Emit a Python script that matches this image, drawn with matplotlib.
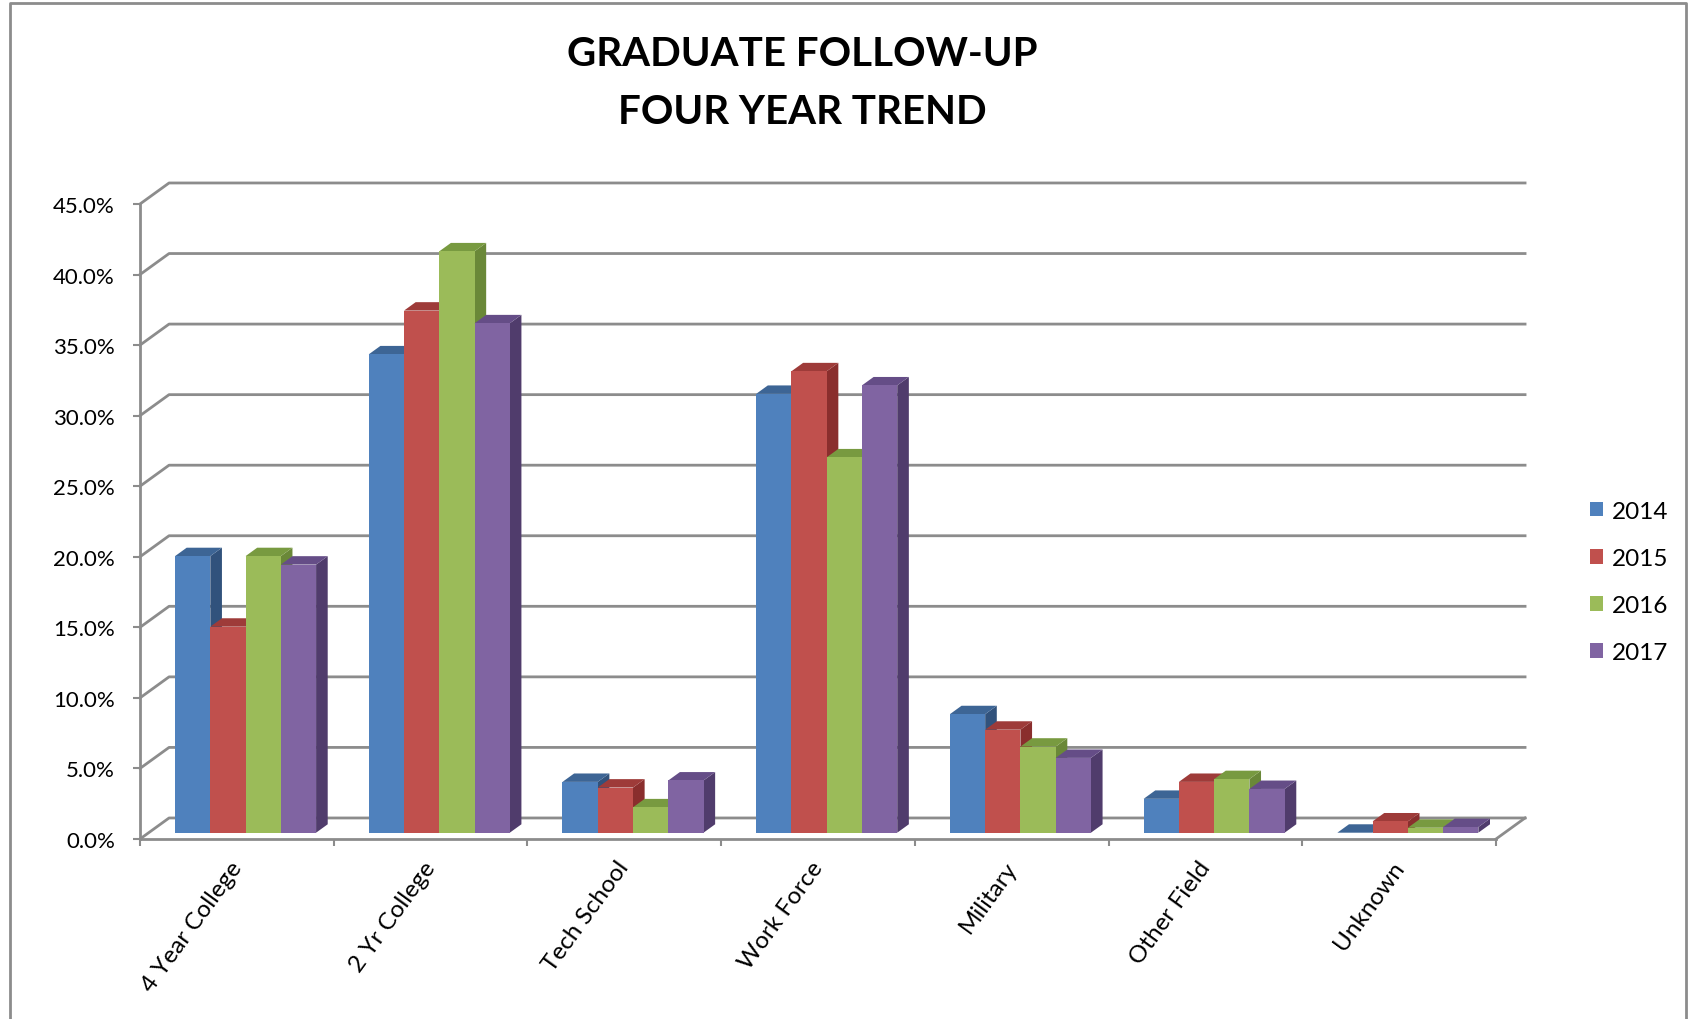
import numpy as np
import matplotlib
matplotlib.use("Agg")
import matplotlib.pyplot as plt
import matplotlib.transforms as mtransforms
from matplotlib.patches import Polygon, Patch
from matplotlib.lines import Line2D

plt.rcParams["font.family"] = ["Lato", "DejaVu Sans"]

# data (percent)
categories = ["4 Year College", "2 Yr College", "Tech School", "Work Force",
              "Military", "Other Field", "Unknown"]
years = ["2014", "2015", "2016", "2017"]
v2014 = [19.6, 33.9, 3.6, 31.1, 8.4, 2.4, 0.0]
v2015 = [14.6, 37.0, 3.2, 32.7, 7.3, 3.6, 0.8]
v2016 = [19.6, 41.2, 1.8, 26.6, 6.1, 3.8, 0.35]
v2017 = [19.0, 36.1, 3.7, 31.7, 5.3, 3.1, 0.4]
y_ticks = np.arange(0, 50, 5)

front_cols = ["#4F81BD", "#C0504D", "#9BBB59", "#8064A2"]
top_cols = ["#3D6595", "#9E3B39", "#789A40", "#654D87"]
side_cols = ["#31527C", "#8A2E2D", "#6A8838", "#503C6C"]
grid_col = "#8C8C8C"

W, H = 1688, 1020
fig = plt.figure(figsize=(W / 100, H / 100), dpi=100)
ax = fig.add_axes([140 / W, (H - 840) / H, 1356 / W, 635 / H])
ncat = len(categories)
ax.set_xlim(0, ncat)
ax.set_ylim(0, 45)

# pseudo 3D depth (data units)
DX, DY = 0.15, 1.49
FRONT, THICK = 0.30, 0.40
BW = 0.182
off = (1 - 4 * BW) / 2

# back wall + floor
for v in y_ticks:
    ax.add_line(Line2D([0, DX, ncat + DX], [v, v + DY, v + DY], color=grid_col,
                       lw=2, clip_on=False, zorder=1))
ax.add_line(Line2D([ncat, ncat + DX], [0, DY], color=grid_col, lw=2,
                   clip_on=False, zorder=1))

series = [v2014, v2015, v2016, v2017]
dx, dy = THICK * DX, THICK * DY
z = 3
for i in range(ncat):
    for j, vals in enumerate(series):
        h = vals[i]
        x0 = i + off + j * BW + FRONT * DX
        y0 = FRONT * DY
        x1 = x0 + BW
        side = Polygon([(x1, y0), (x1 + dx, y0 + dy), (x1 + dx, y0 + h + dy), (x1, y0 + h)],
                       closed=True, fc=side_cols[j], lw=0, zorder=z, clip_on=False)
        top = Polygon([(x0, y0 + h), (x1, y0 + h), (x1 + dx, y0 + h + dy), (x0 + dx, y0 + h + dy)],
                      closed=True, fc=top_cols[j], lw=0, zorder=z + 0.01, clip_on=False)
        ax.add_patch(side)
        ax.add_patch(top)
        ax.bar(x0, h, width=BW, bottom=y0, align="edge", color=front_cols[j],
               lw=0, zorder=z + 0.02, clip_on=False)
        z += 0.1

for s in ["top", "right"]:
    ax.spines[s].set_visible(False)
for s in ["left", "bottom"]:
    ax.spines[s].set_color(grid_col)
    ax.spines[s].set_linewidth(2)
    ax.spines[s].set_zorder(1)

ax.set_yticks(y_ticks)
ax.set_yticklabels([f"{v:.1f}%" for v in y_ticks], fontsize=16)
ax.tick_params(axis="y", length=5, width=1.5, color=grid_col, pad=13)
ax.set_xticks(np.arange(ncat + 1))
ax.set_xticklabels([])
ax.tick_params(axis="x", which="major", length=5, width=1.5, color=grid_col)
ax.set_xticks(np.arange(ncat) + 0.5, minor=True)
ax.set_xticklabels(categories, minor=True, rotation=54, ha="right", va="top",
                   fontsize=17.5)
ax.tick_params(axis="x", which="minor", length=0, pad=13)
shift = mtransforms.ScaledTranslation(9 / 100, 0, fig.dpi_scale_trans)
for lab in ax.get_xticklabels(minor=True):
    lab.set_transform(lab.get_transform() + shift)

fig.text(802 / W, 1 - 54 / H, "GRADUATE FOLLOW-UP", ha="center", va="center",
         fontsize=29, fontweight="bold")
fig.text(802 / W, 1 - 112 / H, "FOUR YEAR TREND", ha="center", va="center",
         fontsize=29, fontweight="bold")

handles = [Patch(facecolor=c, edgecolor="none") for c in front_cols]
fig.legend(handles, years, loc="center left", bbox_to_anchor=(1590 / W, 1 - 583 / H),
           frameon=False, fontsize=17.5, handlelength=0.55, handleheight=0.55,
           handletextpad=0.35, labelspacing=1.08, borderpad=0, borderaxespad=0)

# chart border
fig.add_artist(Line2D([10 / W, 10 / W, 1686 / W, 1686 / W], [0, 1 - 4 / H, 1 - 4 / H, 0],
                      transform=fig.transFigure, color="#8C8C8C", lw=2))

fig.savefig("out.png", dpi=100, facecolor="white")
